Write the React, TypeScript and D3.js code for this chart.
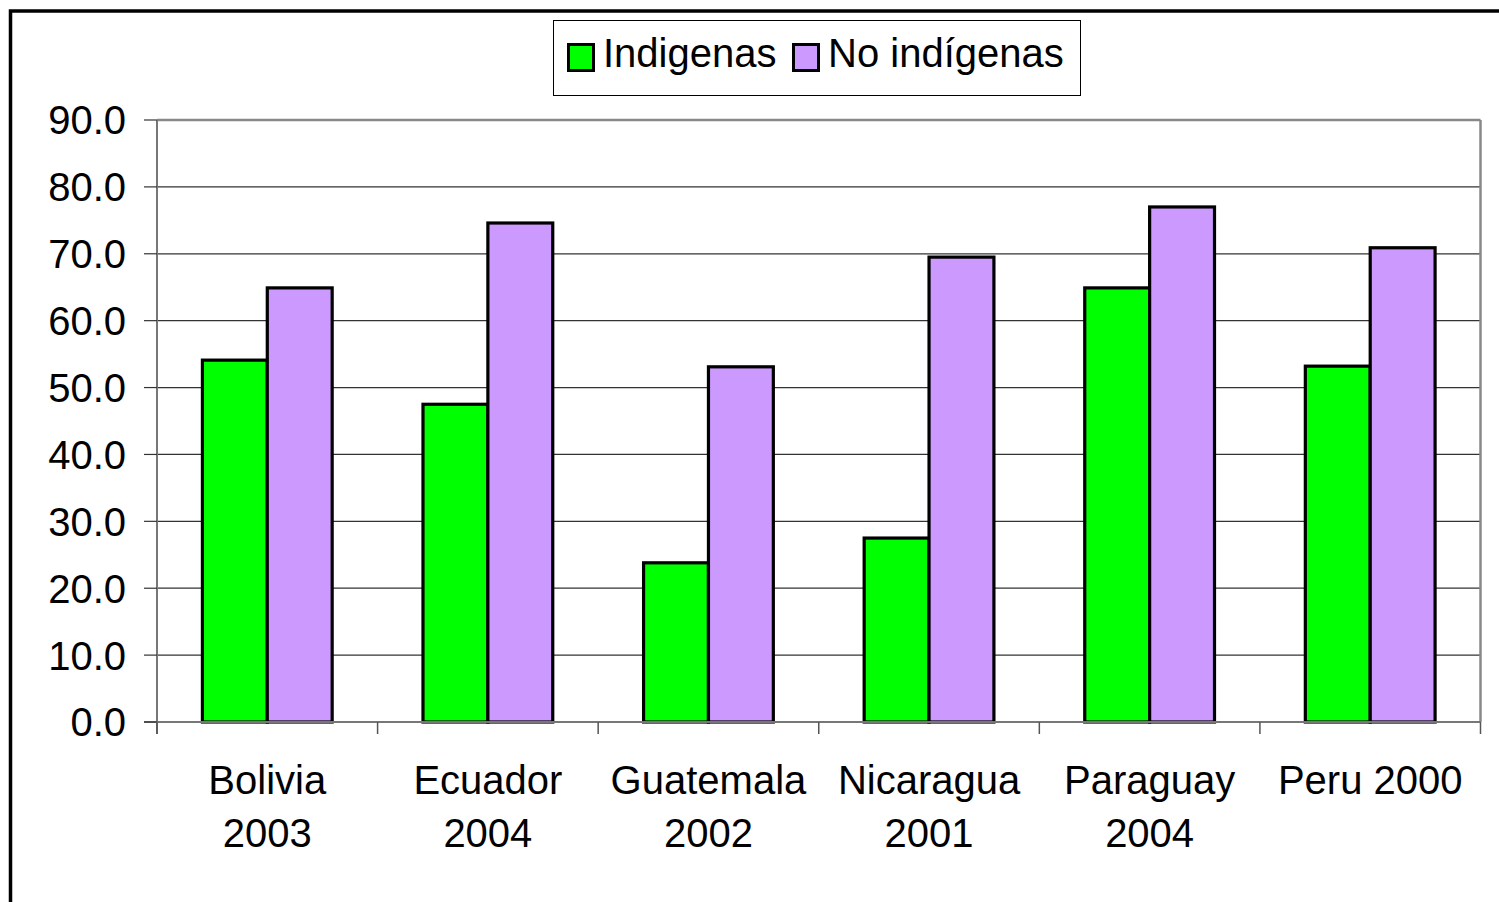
import React from "react";
import * as d3 from "d3";

const categories = ["Bolivia|2003", "Ecuador|2004", "Guatemala|2002", "Nicaragua|2001", "Paraguay|2004", "Peru 2000"];
const seriesNames = ["Indigenas", "No indígenas"];
const indigenas = [54.1, 47.5, 23.8, 27.5, 64.9, 53.2];
const noIndigenas = [64.9, 74.6, 53.1, 69.5, 77.0, 70.9];
const yTicks = [0, 10, 20, 30, 40, 50, 60, 70, 80, 90];
const colors = ["#00ff00", "#cc99ff"];

export default function App() {
  const W = 1499, H = 902;
  const left = 157, right = 1480.5, top = 120, bottom = 722;
  const y = d3.scaleLinear().domain([0, 90]).range([bottom, top]);
  const x = d3.scaleBand().domain(categories).range([left, right]).paddingInner(0).paddingOuter(0);
  const bw = x.bandwidth();
  const barW = bw / 3.4;
  const x1 = d3.scaleBand().domain(seriesNames).range([(bw - 2 * barW) / 2, (bw + 2 * barW) / 2]).padding(0);
  const data = [indigenas, noIndigenas];
  const font = "'Liberation Sans', Arial, sans-serif";
  const boundaries = [...categories.map((c) => x(c)!), right];

  return (
    <svg width={W} height={H} style={{ position: "absolute", left: 0, top: 0, background: "#fff" }} fontFamily={font}>
      <rect x={0} y={0} width={W} height={H} fill="#fff" />
      <rect x={10.5} y={11} width={3000} height={3000} fill="none" stroke="#000" strokeWidth={3.5} />
      {/* gridlines */}
      {yTicks.filter((t) => t > 0 && t < 90).map((t) => (
        <line key={"g" + t} x1={left} x2={right} y1={y(t)} y2={y(t)} stroke="#333" strokeWidth={1.2} />
      ))}
      {/* bars */}
      {categories.map((c, i) =>
        seriesNames.map((s, j) => (
          <rect
            key={c + s}
            x={x(c)! + x1(s)!}
            y={y(data[j][i])}
            width={x1.bandwidth()}
            height={bottom - y(data[j][i])}
            fill={colors[j]}
            stroke="#000"
            strokeWidth={3.2}
          />
        ))
      )}
      {/* plot frame */}
      <line x1={left} x2={right} y1={top} y2={top} stroke="#888" strokeWidth={2.5} />
      <line x1={right} x2={right} y1={top} y2={bottom} stroke="#888" strokeWidth={2.5} />
      <line x1={left} x2={left} y1={top} y2={bottom + 12} stroke="#777" strokeWidth={2} />
      <line x1={left - 13} x2={right} y1={bottom} y2={bottom} stroke="#777" strokeWidth={2} />
      {/* y ticks */}
      {yTicks.map((t) => (
        <g key={"y" + t}>
          <line x1={left - 13} x2={left} y1={y(t)} y2={y(t)} stroke="#333" strokeWidth={1.2} />
          <text x={126} y={y(t)} dy="0.36em" textAnchor="end" fontSize={40} fill="#000">
            {d3.format(".1f")(t)}
          </text>
        </g>
      ))}
      {/* x ticks */}
      {boundaries.map((b, i) => (
        <line key={"xt" + i} x1={b} x2={b} y1={bottom} y2={bottom + 12} stroke="#555" strokeWidth={1.5} />
      ))}
      {/* x labels */}
      {categories.map((c) => {
        const lines = c.split("|");
        const cx = x(c)! + bw / 2;
        return (
          <text key={"xl" + c} x={cx} y={794} textAnchor="middle" fontSize={40} fill="#000">
            {lines.map((l, k) => (
              <tspan key={k} x={cx} y={794 + k * 53}>{l}</tspan>
            ))}
          </text>
        );
      })}
      {/* legend */}
      <rect x={553.5} y={20.5} width={527} height={75} fill="#fff" stroke="#000" strokeWidth={1} />
      <rect x={568.5} y={44.5} width={25} height={26} fill={colors[0]} stroke="#000" strokeWidth={3} />
      <text x={603} y={67} fontSize={40} fill="#000">{seriesNames[0]}</text>
      <rect x={793.5} y={44.5} width={25} height={26} fill={colors[1]} stroke="#000" strokeWidth={3} />
      <text x={828} y={67} fontSize={40} fill="#000">{seriesNames[1]}</text>
    </svg>
  );
}
